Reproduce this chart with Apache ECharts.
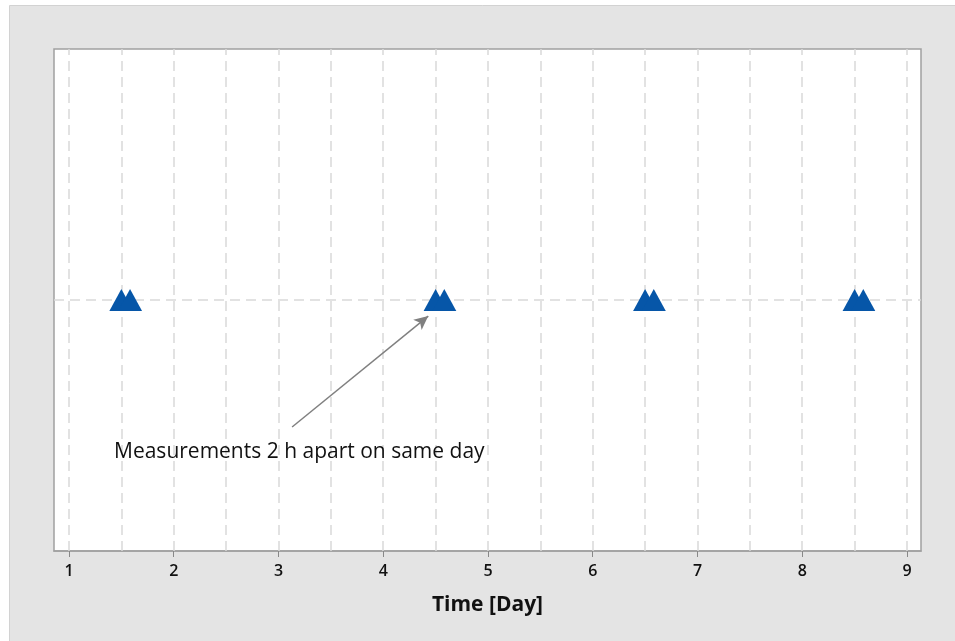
<!DOCTYPE html>
<html>
<head>
<meta charset="utf-8">
<script src="https://cdn.jsdelivr.net/npm/echarts@6/dist/echarts.min.js"></script>
<style>
html, body { margin: 0; padding: 0; background: #ffffff; }
#chart { width: 955px; height: 641px; }
</style>
</head>
<body>
<div id="chart"></div>
<script>
// measurement times (day) and a constant dummy level
var days = [1.5, 1.583, 4.5, 4.583, 6.5, 6.583, 8.5, 8.583];
var level = [1, 1, 1, 1, 1, 1, 1, 1];
var tickDays = [1, 2, 3, 4, 5, 6, 7, 8, 9];
var gridDays = [1, 1.5, 2, 2.5, 3, 3.5, 4, 4.5, 5, 5.5, 6, 6.5, 7, 7.5, 8, 8.5, 9];
var noteText = 'Measurements 2 h apart on same day';
var arrowFrom = [3.13, 0.494];
var arrowTo = [4.43, 0.936];
var noteAt = [1.43, 0.394];

var font = '"Open Sans", "Noto Sans", sans-serif';

var points = days.map(function (d, i) { return [d, level[i]]; });

var chart = echarts.init(document.getElementById('chart'));
chart.setOption({
  backgroundColor: '#ffffff',
  animation: false,
  graphic: [{
    type: 'rect',
    left: 9, top: 5,
    shape: { width: 950, height: 640 },
    style: { fill: '#e4e4e4', stroke: '#d2d2d2', lineWidth: 1 },
    z: -10
  }],
  grid: {
    left: 54, right: 34, top: 49, bottom: 90,
    show: true,
    backgroundColor: '#ffffff',
    borderColor: '#a0a0a0',
    borderWidth: 1.5
  },
  xAxis: {
    type: 'value',
    min: 0.857,
    max: 9.134,
    name: 'Time [Day]',
    nameLocation: 'middle',
    nameGap: 44,
    nameTextStyle: { fontFamily: font, fontSize: 21, fontWeight: 'bold', color: '#111' },
    axisLine: { show: true, lineStyle: { color: '#a0a0a0', width: 1.5 } },
    axisTick: { show: true, length: 6, customValues: tickDays, lineStyle: { color: '#888' } },
    axisLabel: { customValues: tickDays, fontFamily: font, fontSize: 16, fontWeight: 600, color: '#111', margin: 12 },
    splitLine: { show: false }
  },
  yAxis: {
    type: 'value',
    min: 0,
    max: 2,
    show: false,
    splitLine: { show: false }
  },
  series: [{
    type: 'line',
    data: [],
    silent: true,
    z: 1,
    markLine: {
      silent: true,
      symbol: ['none', 'none'],
      label: { show: false },
      lineStyle: { color: '#d9d9d9', type: [10, 6], width: 1.5 },
      data: gridDays.map(function (d) { return { xAxis: d }; }).concat([{ yAxis: 1 }])
    }
  }, {
    type: 'scatter',
    data: points,
    symbol: 'triangle',
    symbolSize: [24, 22],
    itemStyle: { color: '#0656a8', opacity: 1 },
    z: 5,
    markLine: {
      silent: true,
      symbol: ['none', 'arrow'],
      symbolSize: [10, 14],
      label: { show: false },
      lineStyle: { color: '#808080', type: 'solid', width: 1.5 },
      data: [[{ coord: arrowFrom }, { coord: arrowTo }]]
    },
    markPoint: {
      silent: true,
      symbol: 'circle',
      symbolSize: 0,
      label: {
        show: true,
        position: 'right',
        distance: 0,
        formatter: noteText,
        fontFamily: font,
        fontSize: 21,
        color: '#111'
      },
      data: [{ coord: noteAt }]
    }
  }]
});
</script>
</body>
</html>
